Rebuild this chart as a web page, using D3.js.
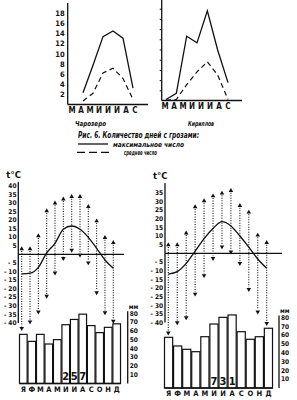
<!DOCTYPE html>
<html>
<head>
<meta charset="utf-8">
<script src="https://cdn.jsdelivr.net/npm/d3@7"></script>
<style>
body{margin:0;background:#fff}
svg{display:block}
text{font-family:"DejaVu Sans Condensed","DejaVu Sans",sans-serif;font-weight:bold;fill:#111}
</style>
</head>
<body>
<script>
var w = 297;
var h = 400;

// thunderstorm days (top charts)
var topMonths = ["М","А","М","И","И","И","А","С"];
var chMonths = ["IV","V","VI","VII","VIII","IX"];
var chMax = [2.4, 7.8, 13.4, 14.5, 13.1, 3.3];
var chAvg = [0.8, 2.3, 6.3, 7.2, 5.2, 1.1];
var kiMonths = ["III","IV","V","VI","VII","VIII","IX"];
var kiMax = [0.3, 1.5, 12.7, 11.4, 17.7, 10, 3.6];
var kiAvg = [0.2, 0.3, 3.2, 5.7, 7.7, 5.1, 0.3];
var stormTicks = [2,4,6,8,10,12,14,16,18];

// climate charts (bottom)
var months = ["Я","Ф","М","А","М","И","И","А","С","О","Н","Д"];
var tMeanL = [-11.4,-11,-7.6,0.8,6.4,14.6,16.5,14.6,9.9,3.5,-3.3,-8.2];
var tMaxL = [3.1,3.1,10.7,25.3,29.8,32.2,33.6,33.6,27.8,19.4,9.7,6.8];
var tMinL = [-43.2,-39.3,-33.5,-24.4,-10.8,-2.3,2.5,-0.4,-4.9,-22.3,-34,-39];
var precL = [56,48,56,45,50,67,73,79,66,58,64,68];
var tMeanR = [-12,-10.6,-5.8,1.3,8.5,14.3,18.3,15.8,10,3.6,-3.3,-8.7];
var tMaxR = [4.8,4.8,11.7,26.8,30.3,33.1,34.7,36.2,27.5,23.7,10.4,6.1];
var tMinR = [-46,-40,-37.2,-23.5,-12.8,-2.9,3.8,0.9,-5.8,-20.8,-33.8,-40.5];
var precR = [57.5,47.7,43.9,41.2,58.2,72.6,80.2,82.9,63.9,55.3,58.2,67.8];
var tTicksL = [40,35,30,25,20,15,10,5,-5,-10,-15,-20,-25,-30,-35,-40];
var tTicksR = [35,30,25,20,15,10,5,-5,-10,-15,-20,-25,-30,-35,-40];
var precTicks = [10,20,30,40,50,60,70,80];

var svg = d3.select("body").append("svg").attr("width",w).attr("height",h);

var drawStorms = function(mon, maxD, avgD, x0, x1, y0, axX, axTop, axEnd, l0, l1, withLabels){
  var x = d3.scalePoint().domain(mon).range([x0,x1]);
  var y = d3.scaleLinear().domain([0,18]).range([y0, y0-91.8]);
  var g = svg.append("g");
  g.append("line").attr("x1",axX).attr("x2",axX).attr("y1",axTop).attr("y2",y0-0.5)
    .attr("stroke","#111").attr("stroke-width",1.3);
  g.append("line").attr("x1",axX).attr("x2",axEnd).attr("y1",y0-0.5).attr("y2",y0-0.5)
    .attr("stroke","#111").attr("stroke-width",1.3);
  if(withLabels){
    g.selectAll(".tl").data(stormTicks).enter().append("text")
      .attr("x",axX-3).attr("y",function(d){return y(d)+2.6;})
      .attr("text-anchor","end").attr("font-size",7.5).text(function(d){return d;});
  } else {
    g.selectAll(".tk").data(stormTicks).enter().append("line")
      .attr("x1",axX-2).attr("x2",axX).attr("y1",function(d){return y(d);}).attr("y2",function(d){return y(d);})
      .attr("stroke","#111").attr("stroke-width",1);
  }
  var line = d3.line().x(function(d,i){return x(mon[i]);}).y(function(d){return y(d);});
  g.append("path").attr("d",line(maxD)).attr("fill","none").attr("stroke","#111").attr("stroke-width",1.3);
  g.append("path").attr("d",line(avgD)).attr("fill","none").attr("stroke","#111").attr("stroke-width",1.2)
    .attr("stroke-dasharray","5,3.5");
  var lx = d3.scalePoint().domain(d3.range(topMonths.length)).range([l0,l1]);
  g.selectAll(".ml").data(topMonths).enter().append("text")
    .attr("x",function(d,i){return lx(i);}).attr("y",y0+8)
    .attr("text-anchor","middle").attr("font-size",8).text(function(d){return d;});
};

drawStorms(chMonths, chMax, chAvg, 83, 133, 105, 67.7, 3, 148, 72, 135, true);
drawStorms(kiMonths, kiMax, kiAvg, 166, 228, 101, 161.7, 0, 242, 165, 228, false);

// names, caption, legend
var cap = svg.append("g").attr("font-style","italic");
cap.append("text").attr("x",75).attr("y",126).attr("font-size",7).attr("textLength",31).attr("lengthAdjust","spacingAndGlyphs").text("Чарозеро");
cap.append("text").attr("x",188).attr("y",126).attr("font-size",7).attr("textLength",26).attr("lengthAdjust","spacingAndGlyphs").text("Кириллов");
cap.append("text").attr("x",78).attr("y",138).attr("font-size",8).attr("textLength",121).attr("lengthAdjust","spacingAndGlyphs").text("Рис. 6. Количество дней с грозами:");
cap.append("text").attr("x",113).attr("y",146.5).attr("font-size",7).attr("textLength",71).attr("lengthAdjust","spacingAndGlyphs").text("максимальное число");
cap.append("text").attr("x",124).attr("y",154.5).attr("font-size",7).attr("textLength",33).attr("lengthAdjust","spacingAndGlyphs").text("среднее число");
svg.append("line").attr("x1",78).attr("x2",108).attr("y1",144).attr("y2",144).attr("stroke","#111").attr("stroke-width",1.3);
svg.append("line").attr("x1",77).attr("x2",109).attr("y1",152.3).attr("y2",152.3).attr("stroke","#111").attr("stroke-width",1.3)
  .attr("stroke-dasharray","8,4");

var climate = function(tMean, tMax, tMin, prec, tTicks, total, o){
  var g = svg.append("g");
  var xb = d3.scaleBand().domain(d3.range(12)).range([o.b0,o.b1]).paddingInner(0.1);
  var xd = d3.scalePoint().domain(d3.range(12)).range([o.d0,o.d1]);
  var yt = d3.scaleLinear().domain([-40,40]).range([o.t40n,o.t40]);
  var yp = d3.scaleLinear().domain([0,80]).range([o.p0,o.p80]);

  g.selectAll("rect").data(prec).enter().append("rect")
    .attr("x",function(d,i){return xb(i);}).attr("y",function(d){return yp(d);})
    .attr("width",xb.bandwidth()).attr("height",function(d){return o.p0-yp(d);})
    .attr("fill","#fff").attr("stroke","#111").attr("stroke-width",1.2);
  g.append("line").attr("x1",o.b0).attr("x2",o.b1).attr("y1",o.p0).attr("y2",o.p0).attr("stroke","#111").attr("stroke-width",1.3);

  g.selectAll(".dl").data(tMax).enter().append("line")
    .attr("x1",function(d,i){return xd(i);}).attr("x2",function(d,i){return xd(i);})
    .attr("y1",function(d){return yt(d)+2;}).attr("y2",function(d,i){return yt(tMin[i])-2;})
    .attr("stroke","#111").attr("stroke-width",1.1).attr("stroke-dasharray","1,1.5");
  var tri = d3.symbol().type(d3.symbolTriangle).size(9);
  g.selectAll(".up").data(tMax).enter().append("path").attr("d",tri)
    .attr("transform",function(d,i){return "translate("+xd(i)+","+yt(d)+")";}).attr("fill","#111");
  g.selectAll(".dn").data(tMin).enter().append("path").attr("d",tri)
    .attr("transform",function(d,i){return "translate("+xd(i)+","+yt(d)+") rotate(180)";}).attr("fill","#111");

  g.append("line").attr("x1",o.ax).attr("x2",o.zEnd).attr("y1",yt(0)).attr("y2",yt(0)).attr("stroke","#111").attr("stroke-width",1.3);
  var line = d3.line().x(function(d,i){return xd(i);}).y(function(d){return yt(d);}).curve(d3.curveMonotoneX);
  g.append("path").attr("d",line(tMean)).attr("fill","none").attr("stroke","#111").attr("stroke-width",1.3);

  g.append("line").attr("x1",o.ax).attr("x2",o.ax).attr("y1",o.axTop).attr("y2",yt(-40))
    .attr("stroke","#111").attr("stroke-width",1.3);
  g.selectAll(".tt").data(tTicks).enter().append("text")
    .attr("x",o.ax-1.8).attr("y",function(d){return yt(d)+2.3;})
    .attr("text-anchor","end").attr("font-size",6.5)
    .text(function(d){return d<0 ? "- "+(-d) : d;});
  g.append("text").attr("x",o.ax-12).attr("y",o.axTop-4).attr("font-size",9.5).attr("font-weight","normal").text("t°C");

  g.append("line").attr("x1",o.mm).attr("x2",o.mm).attr("y1",yp(80)-2).attr("y2",o.p0)
    .attr("stroke","#111").attr("stroke-width",1.3);
  g.selectAll(".pt").data(precTicks).enter().append("text")
    .attr("x",o.mm+2).attr("y",function(d){return yp(d)+2.3;})
    .attr("font-size",6.5).text(function(d){return d;});
  g.append("text").attr("x",o.mm+1).attr("y",yp(80)-4.5).attr("font-size",6.5).text("мм");

  g.selectAll(".ml").data(months).enter().append("text")
    .attr("x",function(d,i){return xb(i)+xb.bandwidth()/2;}).attr("y",o.p0+8)
    .attr("text-anchor","middle").attr("font-size",7.5).text(function(d){return d;});

  g.selectAll(".tot").data(total.split("")).enter().append("text")
    .attr("x",function(d,i){return xb(5+i)+xb.bandwidth()/2;}).attr("y",o.p0-3.5)
    .attr("text-anchor","middle").attr("font-size",11).attr("font-weight","normal").text(function(d){return d;});
};

climate(tMeanL, tMaxL, tMinL, precL, tTicksL, "257",
  {b0:19.5,b1:120.5,d0:21.7,d1:113.3,t40:185.7,t40n:322.9,p0:383.5,p80:313.3,ax:18.3,axTop:182,zEnd:124,mm:127.7});
climate(tMeanR, tMaxR, tMinR, precR, tTicksR, "731",
  {b0:164.5,b1:272.5,d0:168.3,d1:266.7,t40:184.1,t40n:322.5,p0:388,p80:317.5,ax:165,axTop:183,zEnd:282,mm:279});
</script>
</body>
</html>
